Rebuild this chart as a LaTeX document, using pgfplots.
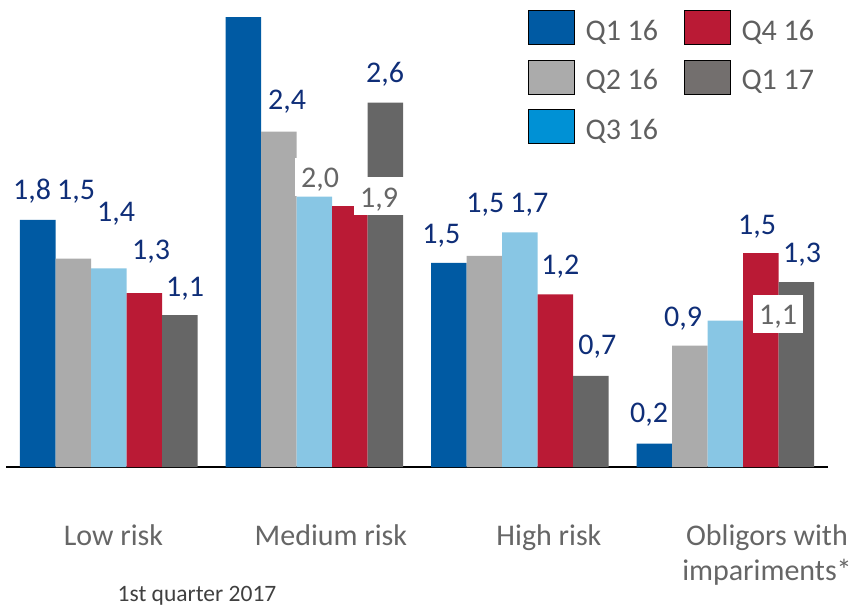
\documentclass[border=0pt]{standalone}
\usepackage{fontspec}
\setmainfont{Carlito}
\usepackage{pgfplots}
\pgfplotsset{compat=1.18}
\definecolor{cQa}{HTML}{005AA3}
\definecolor{cQb}{HTML}{ABABAB}
\definecolor{cQc}{HTML}{88C6E4}
\definecolor{cQcleg}{HTML}{0091D5}
\definecolor{cQd}{HTML}{BA1A35}
\definecolor{cQe}{HTML}{666666}
\definecolor{cQeleg}{HTML}{736F6E}
\definecolor{navy}{HTML}{0F2E78}
\definecolor{labgray}{HTML}{666666}
\definecolor{legtext}{HTML}{5F5F5F}
\definecolor{notegray}{HTML}{404040}
\newcommand\bigfont{\fontsize{30bp}{35bp}\selectfont}
\newcommand\notefont{\fontsize{23.5bp}{28bp}\selectfont}
\begin{document}
\begin{tikzpicture}
\useasboundingbox (0,0) rectangle (858bp,608bp);
\begin{axis}[
  at={(6bp,141bp)}, anchor=south west,
  scale only axis, width=822bp, height=467bp,
  xmin=-0.5, xmax=3.5, ymin=0, ymax=3.3841,
  axis x line=bottom, axis y line=none,
  x axis line style={-, black, line width=2.5bp},
  xtick={0.023,1.081,2.142,3.203},
  xticklabels={Low risk, Medium risk, High risk, {\setlength\tabcolsep{0pt}\begin{tabular}[t]{c}Obligors with\\impariments*\end{tabular}}},
  major tick length=0pt, xtick style={draw=none},
  xticklabel style={font=\bigfont, text=labgray, anchor=base, yshift=-78bp, inner sep=0pt},
  clip=false,
  legend columns=2,
  legend cell align=left,
  legend image code/.code={\fill[#1] (0bp,-13.5bp) rectangle (46bp,20.5bp);},
  legend style={at={(axis description cs:0.635,0.9786)}, anchor=north west,
    draw=none, fill=none, inner sep=0pt, column sep=11bp, row sep=15bp,
    font=\bigfont\color{legtext}, nodes={inner sep=0pt},
    /tikz/every even column/.append style={column sep=26bp}},
  bar width=35.5bp,
]
\addlegendimage{fill=cQa}
\addlegendimage{fill=cQd}
\addlegendimage{fill=cQb}
\addlegendimage{fill=cQeleg}
\addlegendimage{fill=cQcleg}
\legend{Q1 16, Q4 16, Q2 16, Q1 17, Q3 16}
% Q1 16
\addplot[ybar, bar shift=-71bp, fill=cQa, draw=none] coordinates {(0,1.79) (1,3.26) (2,1.48) (3,0.17)};
% Q2 16
\addplot[ybar, bar shift=-35.5bp, fill=cQb, draw=none] coordinates {(0,1.51) (1,2.43) (2,1.53) (3,0.88)};
% Q3 16
\addplot[ybar, bar shift=0bp, fill=cQc, draw=none] coordinates {(0,1.44) (1,1.96) (2,1.70) (3,1.06)};
% Q4 16
\addplot[ybar, bar shift=35.5bp, fill=cQd, draw=none] coordinates {(0,1.26) (1,1.89) (2,1.25) (3,1.55)};
% Q1 17
\addplot[ybar, bar shift=71bp, fill=cQe, draw=none] coordinates {(0,1.10) (1,2.64) (2,0.66) (3,1.34)};
% value labels
\tikzset{lbl/.style={font=\bigfont, text=navy, anchor=base, inner sep=0pt},
         wlbl/.style={font=\bigfont, text=labgray, anchor=base, fill=white, inner xsep=6bp, inner ysep=3bp, text height=27bp, text depth=5bp}}
\node[lbl] at (axis cs:-0.3735,1.937) {1,8};
\node[lbl] at (axis cs:-0.1594,1.937) {1,5};
\node[lbl] at (axis cs:0.0353,1.778) {1,4};
\node[lbl] at (axis cs:0.2056,1.502) {1,3};
\node[lbl] at (axis cs:0.3710,1.234) {1,1};
\node[lbl] at (axis cs:0.8674,2.589) {2,4};
\node[lbl] at (axis cs:1.3443,2.785) {2,6};
\node[wlbl] at (axis cs:1.028,2.022) {2,0};
\node[wlbl] at (axis cs:1.3151,1.884) {1,9};
\node[lbl] at (axis cs:1.6180,1.618) {1,5};
\node[lbl] at (axis cs:1.8321,1.843) {1,5};
\node[lbl] at (axis cs:2.0462,1.843) {1,7};
\node[lbl] at (axis cs:2.1971,1.393) {1,2};
\node[lbl] at (axis cs:2.3771,0.814) {0,7};
\node[lbl] at (axis cs:2.6290,0.321) {0,2};
\node[lbl] at (axis cs:2.7944,1.017) {0,9};
\node[wlbl] at (axis cs:3.2567,1.029) {1,1};
\node[lbl] at (axis cs:3.1550,1.683) {1,5};
\node[lbl] at (axis cs:3.3740,1.480) {1,3};
\end{axis}
\node[anchor=base, font=\notefont, text=notegray, inner sep=0pt] at (197bp,6.5bp) {1st quarter 2017};
\end{tikzpicture}
\end{document}
